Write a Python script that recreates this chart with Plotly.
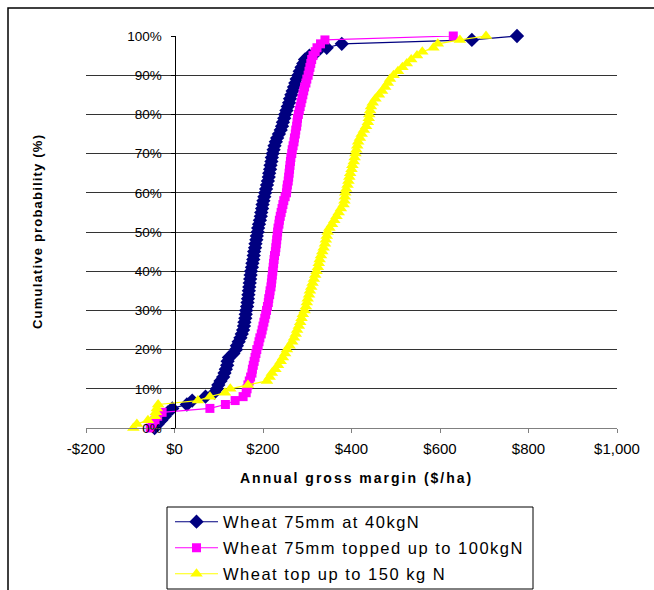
import plotly.graph_objects as go

# ---------------- data ----------------
cum_prob = [0, 1, 2, 3, 4, 5, 6, 7, 8, 9,
            10, 11, 12, 13, 14, 15, 16, 17, 18, 19,
            20, 21, 22, 23, 24, 25, 26, 27, 28, 29,
            30, 31, 32, 33, 34, 35, 36, 37, 38, 39,
            40, 41, 42, 43, 44, 45, 46, 47, 48, 49,
            50, 51, 52, 53, 54, 55, 56, 57, 58, 59,
            60, 61, 62, 63, 64, 65, 66, 67, 68, 69,
            70, 71, 72, 73, 74, 75, 76, 77, 78, 79,
            80, 81, 82, 83, 84, 85, 86, 87, 88, 89,
            90, 91, 92, 93, 94, 95, 96, 97, 98, 99, 100]

gm_40kgN = [-45, -38, -30, -22, -15, -5, 28, 40, 70, 90,
            96, 99, 104, 110, 113, 116, 119, 120, 123, 133,
            139, 141, 145, 149, 152, 155, 157, 158, 160, 161,
            162, 164, 165, 166, 167, 168, 169, 170, 171, 172,
            173, 175, 176, 178, 179, 180, 182, 183, 185, 186,
            188, 189, 191, 193, 195, 196, 198, 199, 201, 203,
            205, 207, 209, 211, 213, 214, 216, 217, 219, 220,
            222, 224, 226, 229, 232, 236, 240, 243, 245, 248,
            250, 253, 256, 259, 261, 264, 267, 270, 273, 276,
            280, 283, 287, 291, 295, 305, 322, 344, 378, 672, 774]

gm_topped_100kgN = [-55, -50, -44, -38, -28, 80, 115, 137, 155, 162,
                    164, 166, 169, 172, 175, 176, 178, 180, 182, 184,
                    186, 189, 191, 193, 196, 198, 200, 202, 204, 206,
                    208, 210, 212, 213, 215, 216, 218, 219, 220, 221,
                    222, 223, 224, 225, 226, 228, 229, 230, 231, 232,
                    233, 234, 236, 237, 239, 241, 243, 245, 247, 250,
                    253, 254, 255, 257, 258, 259, 260, 261, 262, 263,
                    265, 266, 268, 270, 271, 273, 274, 276, 277, 278,
                    280, 282, 284, 286, 288, 290, 292, 294, 297, 299,
                    302, 304, 306, 308, 310, 313, 318, 322, 330, 340, 630]

gm_top_150kgN = [-93, -85, -60, -44, -42, -40, -37, 53, 80, 114,
                 126, 166, 209, 215, 220, 228, 234, 240, 245, 250,
                 254, 260, 266, 270, 274, 277, 281, 284, 287, 290,
                 294, 297, 299, 301, 304, 306, 309, 312, 315, 318,
                 321, 324, 326, 328, 331, 334, 337, 340, 342, 344,
                 346, 350, 356, 361, 366, 371, 376, 382, 384, 385,
                 386, 388, 391, 393, 395, 397, 400, 402, 405, 407,
                 409, 411, 413, 415, 419, 423, 428, 433, 437, 439,
                 440, 442, 444, 448, 454, 462, 469, 476, 482, 487,
                 495, 505, 515, 525, 535, 548, 560, 585, 595, 645, 704]

series_names = ["Wheat 75mm at 40kgN",
                "Wheat 75mm topped up to 100kgN",
                "Wheat top up to 150 kg N"]

x_tickvals = [-200, 0, 200, 400, 600, 800, 1000]
x_ticktext = ["-$200", "$0", "$200", "$400", "$600", "$800", "$1,000"]
y_tickvals = [0, 10, 20, 30, 40, 50, 60, 70, 80, 90, 100]
y_ticktext = ["0%", "10%", "20%", "30%", "40%", "50%", "60%", "70%", "80%", "90%", "100%"]

# ---------------- layout helpers (pixel -> paper) ----------------
W, H = 654, 590
L, R, T, B = 86, 617, 36, 428


def px_x(p):
    return (p - L) / (R - L)


def px_y(p):
    return (B - p) / (B - T)


FONT = "Liberation Sans, Arial, sans-serif"

fig = go.Figure()

styles = [
    dict(color="#000080", symbol="diamond", size=11, legend="legend"),
    dict(color="#FF00FF", symbol="square", size=9, legend="legend2"),
    dict(color="#FFFF00", symbol="triangle-up", size=11, legend="legend3"),
]
series_x = [gm_40kgN, gm_topped_100kgN, gm_top_150kgN]

for name, xs, st in zip(series_names, series_x, styles):
    fig.add_trace(go.Scatter(
        x=xs, y=cum_prob,
        name="<span style='letter-spacing:1.5px'>" + name + "</span>",
        mode="lines+markers",
        line=dict(color=st["color"], width=1.2),
        marker=dict(color=st["color"], symbol=st["symbol"], size=st["size"],
                    line=dict(width=0)),
        cliponaxis=False, legend=st["legend"],
    ))

legend_rows = [522, 548, 574]
legend_common = dict(xanchor="left", yanchor="middle", bgcolor="rgba(0,0,0,0)",
                     borderwidth=0, itemwidth=43,
                     font=dict(family=FONT, size=16.5, color="black"))

fig.update_layout(
    width=W, height=H,
    margin=dict(l=L, r=W - R, t=T, b=H - B, pad=0, autoexpand=False),
    paper_bgcolor="white", plot_bgcolor="white",
    font=dict(family=FONT, color="black"),
    showlegend=True,
    legend=dict(x=px_x(170), y=px_y(legend_rows[0]), **legend_common),
    legend2=dict(x=px_x(170), y=px_y(legend_rows[1]), **legend_common),
    legend3=dict(x=px_x(170), y=px_y(legend_rows[2]), **legend_common),
    xaxis=dict(range=[-200, 1000], tickvals=x_tickvals, ticktext=x_ticktext,
               showgrid=False, zeroline=False, showline=True,
               linecolor="#808080", linewidth=1, ticks="outside", ticklen=4,
               tickcolor="#808080", tickfont=dict(family=FONT, size=15, color="black"),
               ticklabelstandoff=3),
    yaxis=dict(range=[0, 100], tickvals=y_tickvals, ticktext=y_ticktext,
               anchor="free", position=200 / 1200,
               showgrid=True, gridcolor="#333333", gridwidth=1,
               zeroline=False, showline=True, linecolor="black", linewidth=1,
               ticks="outside", ticklen=4, tickcolor="black",
               tickfont=dict(family=FONT, size=13.5, color="black"),
               ticklabelstandoff=6),
    shapes=[
        dict(type="rect", xref="paper", yref="paper",
             x0=px_x(8), x1=px_x(680), y0=px_y(620), y1=px_y(8),
             line=dict(color="black", width=1.5), fillcolor="rgba(0,0,0,0)", layer="below"),
        dict(type="rect", xref="paper", yref="paper",
             x0=px_x(167), x1=px_x(533), y0=px_y(589), y1=px_y(507),
             line=dict(color="black", width=1), fillcolor="rgba(0,0,0,0)"),
    ],
    annotations=[
        dict(text="<b><span style='letter-spacing:2px'>Annual gross margin ($/ha)</span></b>",
             xref="paper", yref="paper", x=px_x(356), y=px_y(478),
             xanchor="center", yanchor="middle", showarrow=False,
             font=dict(family=FONT, size=14, color="black")),
        dict(text="<b><span style='letter-spacing:1.2px'>Cumulative probability (%)</span></b>",
             xref="paper", yref="paper", x=px_x(37), y=px_y(232),
             xanchor="center", yanchor="middle", showarrow=False, textangle=-90,
             font=dict(family=FONT, size=13, color="black")),
    ],
)

fig.write_html("out.html")
